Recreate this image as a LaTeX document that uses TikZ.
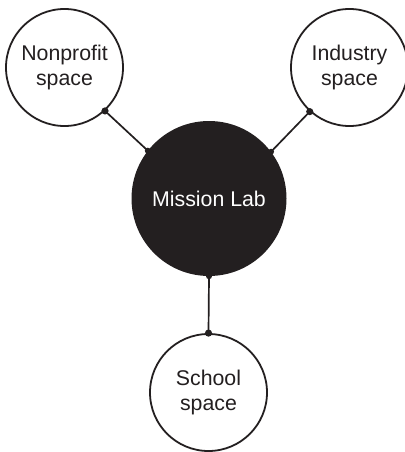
\documentclass[tikz,border=0pt]{standalone}
\usepackage{fontspec}
\setmainfont{Liberation Sans}
\definecolor{ink}{HTML}{231F20}
\begin{document}
\begin{tikzpicture}[x=1pt,y=-1pt,
  space/.style={circle,draw=ink,line width=1.8pt,fill=white,minimum size=117pt,inner sep=0pt,align=center,
    font=\fontsize{21.3}{24.5}\selectfont,text=ink},
  hub/.style={circle,fill=ink,minimum size=155pt,inner sep=0pt,align=center,
    font=\fontsize{21.3}{24.5}\selectfont,text=white},
  link/.style={draw=ink,line width=1.7pt},
  dot/.style={fill=ink}]
\useasboundingbox (0,0) rectangle (404,452);
\node[hub] (lab) at (209,198.5) {Mission Lab};
\node[space] (np) at (64.5,67.5) {Nonprofit\\space};
\node[space] (ind) at (349.5,67.5) {Industry\\space};
\node[space] (sch) at (208.5,392.5) {School\\space};
\coordinate (a1) at (np.-47.5);
\coordinate (a2) at (lab.142.5);
\coordinate (b1) at (ind.-132.2);
\coordinate (b2) at (lab.37.8);
\coordinate (c1) at (lab.-90);
\coordinate (c2) at (sch.90);
\draw[link] (a1) -- (a2);
\draw[link] (b1) -- (b2);
\draw[link] (c1) -- (c2);
\foreach \p in {a1,b1,c2} \fill[dot] (\p) circle (3.6pt);
\foreach \p in {a2,b2,c1} \fill[dot] (\p) circle (3pt);
\end{tikzpicture}
\end{document}
